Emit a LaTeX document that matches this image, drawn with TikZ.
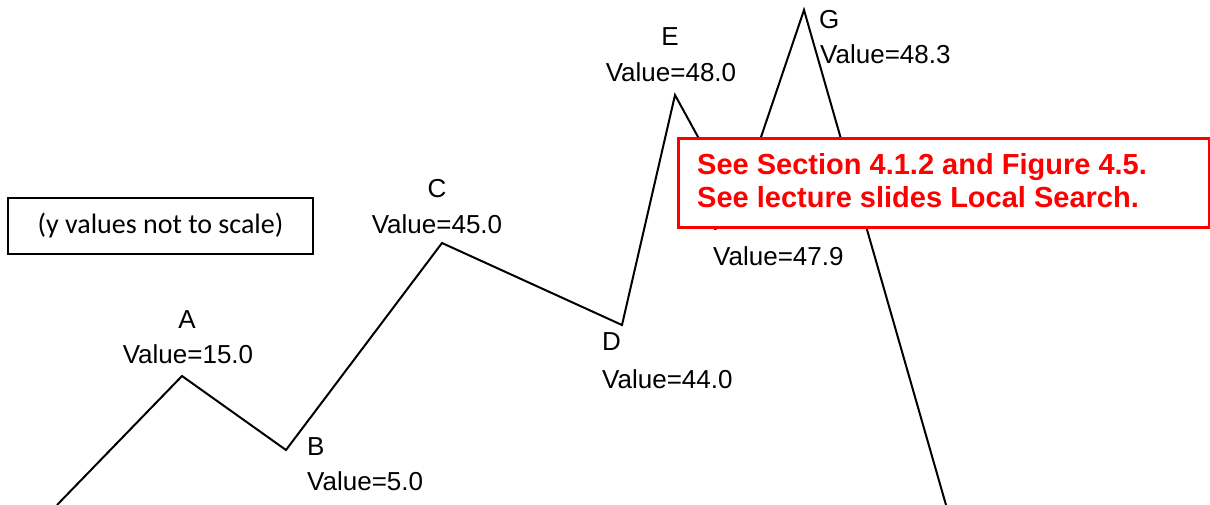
\documentclass[tikz,border=0pt]{standalone}
\usepackage{fontspec}
\setmainfont{Liberation Sans}
\newfontfamily\calib{Carlito}
\begin{document}
\begin{tikzpicture}[x=1pt,y=-1pt,
  lbl/.style={font=\fontsize{26}{30}\selectfont, inner sep=0pt, text=black},
  curve/.style={draw=black, line width=2pt, line join=miter},
  notebox/.style={draw=black, line width=2pt, fill=white, minimum width=305pt, minimum height=56pt, inner sep=0pt, font=\calib\fontsize{28}{32}\selectfont},
  redbox/.style={draw=red, line width=2.5pt, fill=white, minimum width=531pt, minimum height=89pt, inner sep=0pt, anchor=north west},
  redtxt/.style={font=\bfseries\fontsize{29}{33}\selectfont, text=red, inner sep=0pt, anchor=base west}]
\useasboundingbox (0,0) rectangle (1210,504);
% landscape
\coordinate (S) at (57,505);
\coordinate (A) at (182,376);
\coordinate (B) at (286,450);
\coordinate (C) at (442,243);
\coordinate (D) at (622,325);
\coordinate (E) at (675,95);
\coordinate (F) at (737,208);
\coordinate (G) at (804,10);
\coordinate (T) at (946,505);
\draw[curve] (S) -- (A) -- (B) -- (C) -- (D) -- (E) -- (F) -- (G) -- (T);
% labels
\node[lbl, anchor=base] (la) at (187,328) {A};
\node[lbl, anchor=base] (va) at (188,363) {Value=15.0};
\node[lbl, anchor=base west] (lb) at (307,455) {B};
\node[lbl, anchor=base west] (vb) at (307,490) {Value=5.0};
\node[lbl, anchor=base] (lc) at (437,197) {C};
\node[lbl, anchor=base] (vc) at (437,233) {Value=45.0};
\node[lbl, anchor=base west] (ld) at (602,350) {D};
\node[lbl, anchor=base west] (vd) at (602,388) {Value=44.0};
\node[lbl, anchor=base] (le) at (670,45) {E};
\node[lbl, anchor=base] (ve) at (671,81) {Value=48.0};
\node[lbl, anchor=base west] (lf) at (712,230) {F};
\node[lbl, anchor=base west] (vf) at (713,265) {Value=47.9};
\node[lbl, anchor=base west] (lg) at (819,28) {G};
\node[lbl, anchor=base west] (vg) at (820,63) {Value=48.3};
% note box
\node[notebox] (note) at (160.5,226) {(y values not to scale)};
% red box
\node[redbox] (rbox) at (677,137) {};
\node[redtxt] (r1) at (697,174) {See Section 4.1.2 and Figure 4.5.};
\node[redtxt] (r2) at (697,207) {See lecture slides Local Search.};
\end{tikzpicture}
\end{document}
